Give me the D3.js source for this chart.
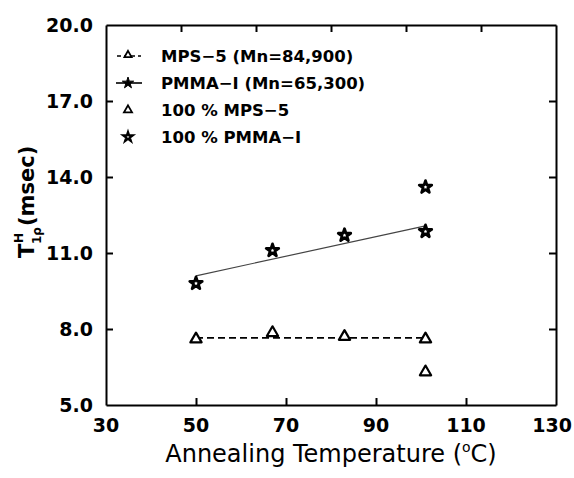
<!DOCTYPE html>
<html lang="en">
<head>
  <meta charset="UTF-8">
  <title>T1rho vs annealing temperature</title>
  <script src="https://d3js.org/d3.v7.min.js"></script>
  <style>
    body { margin: 0; background: white; }
    svg text { font-family: "DejaVu Sans", Arial, sans-serif; fill: black; }
  </style>
</head>
<body>
<div id="chart"></div>
<script>
// data
var temps      = [50, 67, 83, 101];
var mpsValues  = [7.6, 7.85, 7.7, 7.6];
var pmmaValues = [9.8, 11.1, 11.7, 11.85];
// 100 % samples
var pureTemp   = [101];
var pureMps    = [6.3];
var purePmma   = [13.6];
// fitted lines (end points)
var mpsFitT    = [50, 101];
var mpsFitV    = [7.65, 7.65];
var pmmaFitT   = [50, 101];
var pmmaFitV   = [10.1, 12.07];
// ticks
var xTicks = [30, 50, 70, 90, 110, 130];
var yTicks = [5, 8, 11, 14, 17, 20];
var legendLabels = ["MPS\u22125 (Mn=84,900)", "PMMA\u2212I (Mn=65,300)", "100 % MPS\u22125", "100 % PMMA\u2212I"];

var width = 574, height = 478;
// plot box edges
var boxL = 106, boxR = 556, boxT = 25, boxB = 405;

var svg = d3.select("#chart").append("svg")
  .attr("width", width)
  .attr("height", height);

var x = d3.scaleLinear().domain([30, 130]).range([boxL, boxR]);
var y = d3.scaleLinear().domain([5, 20]).range([boxB, boxT]);
// the top border has its own (odd) tick spacing: 6 equal intervals
var xTop = d3.scaleLinear().domain([0, 6]).range([boxL, boxR]);

// frame with inward ticks
var tickLen = 7;
svg.append("g")
  .attr("transform", "translate(0," + boxB + ")")
  .call(d3.axisBottom(x).tickValues(xTicks.slice(1, -1)).tickSizeInner(-tickLen).tickSizeOuter(0).tickFormat(""));
svg.append("g")
  .attr("transform", "translate(0," + boxT + ")")
  .call(d3.axisTop(xTop).tickValues([1, 2, 3, 4, 5]).tickSizeInner(-tickLen).tickSizeOuter(0).tickFormat(""));
svg.append("g")
  .attr("transform", "translate(" + boxL + ",0)")
  .call(d3.axisLeft(y).tickValues(yTicks.slice(1, -1)).tickSizeInner(-tickLen).tickSizeOuter(0).tickFormat(""));
svg.append("g")
  .attr("transform", "translate(" + boxR + ",0)")
  .call(d3.axisRight(y).tickValues(yTicks.slice(1, -1)).tickSizeInner(-tickLen).tickSizeOuter(0).tickFormat(""));
svg.selectAll(".domain, .tick line").attr("stroke", "black").attr("stroke-width", 2);

// tick labels (last one pulled in so it stays inside the page)
svg.selectAll(".xlab").data(xTicks).enter().append("text")
  .attr("y", boxB + 27)
  .attr("text-anchor", "middle")
  .attr("font-size", 19)
  .attr("font-weight", "bold")
  .text(function(d) { return d; })
  .attr("x", function(d) {
    var half = this.getComputedTextLength() / 2;
    return Math.min(x(d), width - 2 - half);
  });
svg.selectAll(".ylab").data(yTicks).enter().append("text")
  .attr("x", boxL - 13)
  .attr("y", function(d) { return y(d) + 7; })
  .attr("text-anchor", "end")
  .attr("font-size", 19)
  .attr("font-weight", "bold")
  .text(function(d) { return d3.format(".1f")(d); });

// axis titles
var xt = svg.append("text")
  .attr("x", (boxL + boxR) / 2)
  .attr("y", 462)
  .attr("text-anchor", "middle")
  .attr("font-size", 24)
  .text("Annealing Temperature (");
xt.append("tspan").attr("font-size", 14).attr("dy", -10).text("o");
xt.append("tspan").attr("dy", 10).text("C)");

var yt = svg.append("g").attr("transform", "translate(34,258) rotate(-90)");
yt.append("text").attr("x", 0).attr("y", 0).attr("font-size", 21).attr("font-weight", "bold").text("T");
yt.append("text").attr("x", 15).attr("y", -11).attr("font-size", 12).attr("font-weight", "bold").text("H");
yt.append("text").attr("x", 14).attr("y", 7).attr("font-size", 12).attr("font-weight", "bold").text("1\u03C1");
yt.append("text").attr("x", 32).attr("y", 0).attr("font-size", 21).attr("font-weight", "bold").text("(msec)");

// fitted lines
var line = d3.line().x(function(d) { return x(d[0]); }).y(function(d) { return y(d[1]); });
svg.append("path")
  .datum(mpsFitT.map(function(t, i) { return [t, mpsFitV[i]]; }))
  .attr("d", line)
  .attr("fill", "none").attr("stroke", "black").attr("stroke-width", 1.6)
  .attr("stroke-dasharray", "7,4");
svg.append("path")
  .datum(pmmaFitT.map(function(t, i) { return [t, pmmaFitV[i]]; }))
  .attr("d", line)
  .attr("fill", "none").attr("stroke", "#444").attr("stroke-width", 1.2);

// markers
var tri = d3.symbol().type(d3.symbolTriangle).size(55);
var star = d3.symbol().type(d3.symbolStar).size(48);

function drawMarkers(tv, vv, sym, sw) {
  svg.append("g").selectAll("path").data(tv).enter().append("path")
    .attr("d", sym)
    .attr("transform", function(d, i) { return "translate(" + x(d) + "," + y(vv[i]) + ")"; })
    .attr("fill", "white").attr("stroke", "black").attr("stroke-width", sw)
    .attr("stroke-linejoin", "round");
}
drawMarkers(temps, mpsValues, tri, 2.2);
drawMarkers(temps, pmmaValues, star, 2.8);
drawMarkers(pureTemp, pureMps, tri, 2.2);
drawMarkers(pureTemp, purePmma, star, 2.8);

// legend
var legY = [56, 83, 110, 137];
var lg = svg.append("g");
lg.selectAll("text").data(legendLabels).enter().append("text")
  .attr("x", 161)
  .attr("y", function(d, i) { return legY[i] + 6; })
  .attr("font-size", 16.5)
  .attr("font-weight", "bold")
  .text(function(d) { return d; });
// row 1: dashed line with small triangle
lg.append("line").attr("x1", 117).attr("x2", 141).attr("y1", legY[0]).attr("y2", legY[0])
  .attr("stroke", "black").attr("stroke-width", 1.6).attr("stroke-dasharray", "4,3");
lg.append("path").attr("d", d3.symbol().type(d3.symbolTriangle).size(22))
  .attr("transform", "translate(128," + (legY[0] - 1) + ")")
  .attr("fill", "white").attr("stroke", "black").attr("stroke-width", 1.8);
// row 2: solid line with filled star
lg.append("line").attr("x1", 116).attr("x2", 142).attr("y1", legY[1]).attr("y2", legY[1])
  .attr("stroke", "black").attr("stroke-width", 1.6);
lg.append("path").attr("d", d3.symbol().type(d3.symbolStar).size(40))
  .attr("transform", "translate(128," + legY[1] + ")")
  .attr("fill", "black").attr("stroke", "black").attr("stroke-width", 1);
// row 3, 4: open symbols
lg.append("path").attr("d", d3.symbol().type(d3.symbolTriangle).size(28))
  .attr("transform", "translate(128," + legY[2] + ")")
  .attr("fill", "white").attr("stroke", "black").attr("stroke-width", 1.8);
lg.append("path").attr("d", d3.symbol().type(d3.symbolStar).size(28))
  .attr("transform", "translate(128," + legY[3] + ")")
  .attr("fill", "white").attr("stroke", "black").attr("stroke-width", 2.2);
</script>
</body>
</html>
